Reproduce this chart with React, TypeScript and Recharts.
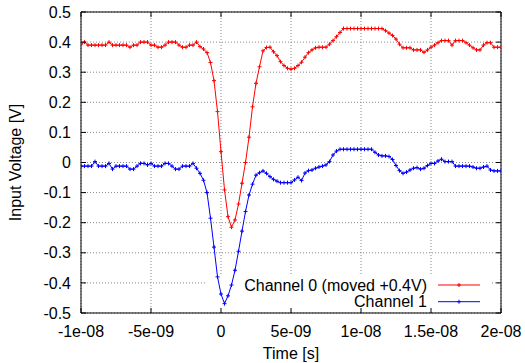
import React from 'react';
import {
  LineChart,
  Line,
  XAxis,
  YAxis,
  CartesianGrid,
  Legend,
  ReferenceArea,
} from 'recharts';

// scope samples, one every 0.25 ns (time in ns)
const timeNs = [
  -10, -9.75, -9.5, -9.25,
  -9, -8.75, -8.5, -8.25,
  -8, -7.75, -7.5, -7.25,
  -7, -6.75, -6.5, -6.25,
  -6, -5.75, -5.5, -5.25,
  -5, -4.75, -4.5, -4.25,
  -4, -3.75, -3.5, -3.25,
  -3, -2.75, -2.5, -2.25,
  -2, -1.75, -1.5, -1.25,
  -1, -0.75, -0.5, -0.25,
  0, 0.25, 0.5, 0.75,
  1, 1.25, 1.5, 1.75,
  2, 2.25, 2.5, 2.75,
  3, 3.25, 3.5, 3.75,
  4, 4.25, 4.5, 4.75,
  5, 5.25, 5.5, 5.75,
  6, 6.25, 6.5, 6.75,
  7, 7.25, 7.5, 7.75,
  8, 8.25, 8.5, 8.75,
  9, 9.25, 9.5, 9.75,
  10, 10.25, 10.5, 10.75,
  11, 11.25, 11.5, 11.75,
  12, 12.25, 12.5, 12.75,
  13, 13.25, 13.5, 13.75,
  14, 14.25, 14.5, 14.75,
  15, 15.25, 15.5, 15.75,
  16, 16.25, 16.5, 16.75,
  17, 17.25, 17.5, 17.75,
  18, 18.25, 18.5, 18.75,
  19, 19.25, 19.5, 19.75,
  20,
];

// channel 0, already shifted by +0.4 V
const ch0Volts = [
  0.393, 0.4, 0.39, 0.39,
  0.39, 0.39, 0.39, 0.39,
  0.4, 0.39, 0.39, 0.39,
  0.39, 0.39, 0.383, 0.39,
  0.39, 0.4, 0.4, 0.4,
  0.39, 0.39, 0.383, 0.383,
  0.39, 0.4, 0.4, 0.4,
  0.39, 0.383, 0.383, 0.39,
  0.39, 0.4, 0.385, 0.377,
  0.365, 0.332, 0.272, 0.169,
  0.036, -0.091, -0.18, -0.215,
  -0.191, -0.138, -0.069, 0.0,
  0.084, 0.185, 0.263, 0.318,
  0.371, 0.382, 0.383, 0.368,
  0.355, 0.335, 0.322, 0.313,
  0.31, 0.313, 0.322, 0.333,
  0.35, 0.365, 0.374, 0.381,
  0.383, 0.383, 0.383, 0.393,
  0.405, 0.418, 0.432, 0.445,
  0.445, 0.445, 0.445, 0.445,
  0.445, 0.445, 0.445, 0.445,
  0.445, 0.445, 0.445, 0.438,
  0.43, 0.422, 0.41, 0.393,
  0.381, 0.381, 0.381, 0.374,
  0.374, 0.374, 0.366, 0.374,
  0.383, 0.39, 0.398, 0.405,
  0.405, 0.405, 0.39, 0.405,
  0.405, 0.405, 0.398, 0.39,
  0.381, 0.374, 0.374, 0.39,
  0.398, 0.398, 0.383, 0.383,
  0.383,
];

const ch1Volts = [
  -0.012, -0.012, -0.012, -0.012,
  0.003, -0.012, -0.012, -0.012,
  -0.003, -0.022, -0.012, -0.012,
  -0.012, -0.012, -0.022, -0.022,
  -0.012, -0.003, -0.003, -0.008,
  -0.003, -0.012, -0.012, -0.012,
  -0.003, -0.003, -0.012, -0.022,
  -0.022, -0.012, -0.012, -0.012,
  -0.003, -0.019, -0.036, -0.059,
  -0.1, -0.185, -0.281, -0.38,
  -0.437, -0.469, -0.443, -0.407,
  -0.358, -0.295, -0.228, -0.163,
  -0.108, -0.072, -0.042, -0.034,
  -0.028, -0.036, -0.047, -0.056,
  -0.062, -0.067, -0.067, -0.067,
  -0.067, -0.058, -0.049, -0.06,
  -0.035, -0.027, -0.025, -0.019,
  -0.015, -0.012, -0.008, 0.003,
  0.025, 0.038, 0.044, 0.044,
  0.044, 0.044, 0.044, 0.044,
  0.044, 0.044, 0.044, 0.044,
  0.034, 0.025, 0.022, 0.022,
  0.02, 0.01, -0.01, -0.027,
  -0.036, -0.032, -0.025, -0.019,
  -0.017, -0.022, -0.019, -0.01,
  -0.003, -0.003, 0.005, 0.011,
  0.003, 0.003, 0.003, -0.012,
  -0.012, -0.012, -0.012, -0.012,
  -0.015, -0.019, -0.019, -0.015,
  -0.012, -0.025, -0.028, -0.028,
  -0.028,
];

const seriesNames = ['Channel 0 (moved +0.4V)', 'Channel 1'];

const xTicks = [-10, -5, 0, 5, 10, 15, 20];
const xTickLabels = ['-1e-08', '-5e-09', '0', '5e-09', '1e-08', '1.5e-08', '2e-08'];
const yTicks = [0.5, 0.4, 0.3, 0.2, 0.1, 0, -0.1, -0.2, -0.3, -0.4, -0.5];
const yTickLabels = ['0.5', '0.4', '0.3', '0.2', '0.1', '0', '-0.1', '-0.2', '-0.3', '-0.4', '-0.5'];

const data = timeNs.map((t, i) => ({ t, ch0: ch0Volts[i], ch1: ch1Volts[i] }));

const FONT = '"Liberation Sans", Arial, Helvetica, sans-serif';

const labelFor = (v: number, ticks: number[], labels: string[]) => {
  const i = ticks.findIndex((k) => Math.abs(k - v) < 1e-9);
  return i >= 0 ? labels[i] : String(v);
};

// gnuplot style "+" point
const PlusDot = (props: any) => {
  const { cx, cy, stroke } = props;
  if (cx == null || cy == null) return null;
  return (
    <path d={`M${cx - 2},${cy}h4M${cx},${cy - 2}v4`} stroke={stroke} strokeWidth={1} fill="none" />
  );
};

const LeftTick = (props: any) => {
  const { x, y, payload } = props;
  return (
    <g>
      <line x1={x} y1={y} x2={x + 5} y2={y} stroke="#000" />
      <text x={x - 10} y={y} dy="0.35em" textAnchor="end" fontFamily={FONT} fontSize={16} fill="#000">
        {labelFor(payload.value, yTicks, yTickLabels)}
      </text>
    </g>
  );
};

const RightTick = (props: any) => {
  const { x, y } = props;
  return <line x1={x} y1={y} x2={x - 5} y2={y} stroke="#000" />;
};

const BottomTick = (props: any) => {
  const { x, y, payload } = props;
  return (
    <g>
      <line x1={x} y1={y} x2={x} y2={y - 5} stroke="#000" />
      <text x={x} y={y + 24} textAnchor="middle" fontFamily={FONT} fontSize={16} fill="#000">
        {labelFor(payload.value, xTicks, xTickLabels)}
      </text>
    </g>
  );
};

const TopTick = (props: any) => {
  const { x, y } = props;
  return <line x1={x} y1={y} x2={x} y2={y + 5} stroke="#000" />;
};

const XLabel = (props: any) => {
  const vb = props.viewBox || {};
  return (
    <text x={vb.x + vb.width / 2} y={vb.y + 46} textAnchor="middle" fontFamily={FONT} fontSize={16} fill="#000">
      Time [s]
    </text>
  );
};

const YLabel = (props: any) => {
  const vb = props.viewBox || {};
  const cy = vb.y + vb.height / 2;
  return (
    <text
      transform={`translate(21, ${cy}) rotate(-90)`}
      textAnchor="middle"
      fontFamily={FONT}
      fontSize={16}
      fill="#000"
    >
      Input Voltage [V]
    </text>
  );
};

const KeyBox = (props: any) => {
  const items = props.payload || [];
  return (
    <svg width={260} height={36} style={{ display: 'block' }}>
      {items.map((it: any, i: number) => {
        const cy = 11 + i * 16.7;
        return (
          <g key={i}>
            <text x={197} y={cy} dy="0.35em" textAnchor="end" fontFamily={FONT} fontSize={16} fill="#000">
              {it.value}
            </text>
            <line x1={208} y1={cy} x2={250} y2={cy} stroke={it.color} strokeWidth={1} />
            <path d={`M${227},${cy}h4M${229},${cy - 2}v4`} stroke={it.color} strokeWidth={1} />
          </g>
        );
      })}
    </svg>
  );
};

export default function App() {
  return (
    <div style={{ position: 'absolute', left: 0, top: 0, width: 525, height: 363, background: '#fff' }}>
      <LineChart width={525} height={363} data={data} margin={{ top: 0, right: 0, bottom: 0, left: 0 }}>
        <CartesianGrid stroke="#888" strokeDasharray="1 2" />
        <XAxis
          dataKey="t"
          type="number"
          domain={[-10, 20]}
          ticks={xTicks}
          allowDataOverflow
          height={50}
          tickSize={0}
          tickMargin={0}
          tickLine={false}
          axisLine={{ stroke: '#000' }}
          tick={<BottomTick />}
          interval={0}
          label={(p: any) => <XLabel {...p} />}
        />
        <XAxis
          xAxisId="top"
          orientation="top"
          dataKey="t"
          type="number"
          domain={[-10, 20]}
          ticks={xTicks}
          allowDataOverflow
          height={12}
          tickSize={0}
          tickMargin={0}
          tickLine={false}
          axisLine={{ stroke: '#000' }}
          tick={<TopTick />}
          interval={0}
        />
        <YAxis
          type="number"
          domain={[-0.5, 0.5]}
          ticks={yTicks}
          allowDataOverflow
          width={81}
          tickSize={0}
          tickMargin={0}
          tickLine={false}
          axisLine={{ stroke: '#000' }}
          tick={<LeftTick />}
          interval={0}
          label={(p: any) => <YLabel {...p} />}
        />
        <YAxis
          yAxisId="right"
          orientation="right"
          type="number"
          domain={[-0.5, 0.5]}
          ticks={yTicks}
          allowDataOverflow
          width={24}
          tickSize={0}
          tickMargin={0}
          tickLine={false}
          axisLine={{ stroke: '#000' }}
          tick={<RightTick />}
          interval={0}
        />
        <ReferenceArea
          x1={-1.12}
          x2={19.25}
          y1={-0.497}
          y2={-0.377}
          fill="#fff"
          fillOpacity={1}
          stroke="none"
          ifOverflow="visible"
        />
        <Line
          type="linear"
          dataKey="ch0"
          name={seriesNames[0]}
          stroke="#ff0000"
          strokeWidth={1}
          dot={<PlusDot />}
          activeDot={false}
          isAnimationActive={false}
        />
        <Line
          type="linear"
          dataKey="ch1"
          name={seriesNames[1]}
          stroke="#0000ff"
          strokeWidth={1}
          dot={<PlusDot />}
          activeDot={false}
          isAnimationActive={false}
        />
        <Legend
          layout="horizontal"
          verticalAlign="middle"
          align="center"
          content={<KeyBox />}
          wrapperStyle={{ position: 'absolute', left: 230, top: 274, width: 260, height: 36 }}
        />
      </LineChart>
    </div>
  );
}
